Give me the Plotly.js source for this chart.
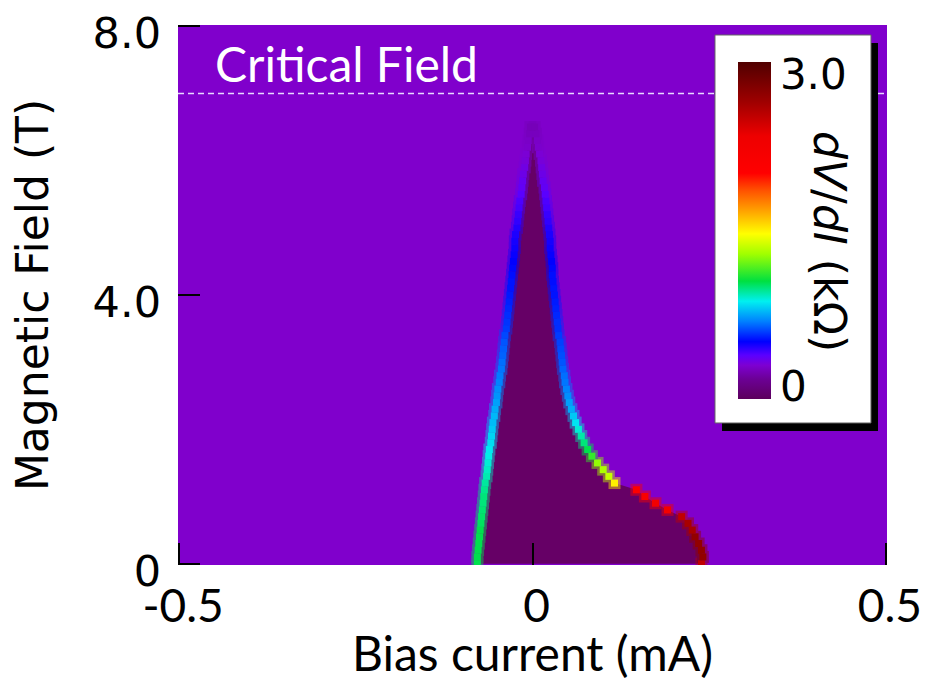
<!DOCTYPE html>
<html>
<head>
<meta charset="utf-8">
<script src="https://cdn.plot.ly/plotly-3.0.1.min.js"></script>
<style>html,body{margin:0;padding:0;background:#fff;}#chart{width:925px;height:681px;}</style>
</head>
<body>
<div id="chart"></div>
<script>
// Magnetic field rows (T)
const fieldT = [0.0,0.1,0.2,0.3,0.4,0.5,0.6,0.7,0.8,0.9,1.0,1.1,1.2,1.3,1.4,1.5,1.6,1.7,1.8,1.9,
  2.0,2.1,2.2,2.3,2.4,2.5,2.6,2.7,2.8,2.9,3.0,3.1,3.2,3.3,3.4,3.5,3.6,3.7,3.8,3.9,
  4.0,4.1,4.2,4.3,4.4,4.5,4.6,4.7,4.8,4.9,5.0,5.1,5.2,5.3,5.4,5.5,5.6,5.7,5.8,5.9,
  6.0,6.1,6.2,6.3,6.4,6.5];
// Negative switching current (mA) per field row
const leftEdgeI = [-0.078,-0.078,-0.077,-0.076,-0.075,-0.074,-0.073,-0.072,-0.071,-0.070,
  -0.069,-0.068,-0.067,-0.065,-0.064,-0.063,-0.062,-0.061,-0.059,-0.058,
  -0.057,-0.056,-0.054,-0.053,-0.051,-0.050,-0.049,-0.047,-0.046,-0.044,
  -0.043,-0.042,-0.041,-0.040,-0.039,-0.037,-0.036,-0.035,-0.034,-0.033,
  -0.032,-0.031,-0.030,-0.029,-0.028,-0.027,-0.026,-0.025,-0.025,-0.024,
  -0.022,-0.021,-0.020,-0.019,-0.018,-0.016,-0.015,-0.014,-0.013,-0.011,
  -0.010,-0.009,-0.007,-0.006,-0.004,-0.003];
// Positive switching current (mA) per field row
const rightEdgeI = [0.239,0.241,0.239,0.235,0.230,0.226,0.220,0.211,0.191,0.174,
  0.159,0.147,0.116,0.108,0.100,0.092,0.084,0.078,0.073,0.069,
  0.065,0.061,0.058,0.055,0.052,0.050,0.048,0.046,0.045,0.043,
  0.042,0.041,0.040,0.039,0.037,0.036,0.035,0.034,0.033,0.032,
  0.031,0.030,0.029,0.028,0.028,0.027,0.026,0.025,0.025,0.024,
  0.023,0.022,0.021,0.020,0.019,0.018,0.017,0.015,0.014,0.013,
  0.012,0.010,0.008,0.007,0.005,0.003];
// Peak dV/dI (kOhm) along the negative edge
const leftPeak = [1.0,1.0,1.0,1.0,1.0,1.0,0.98,0.97,0.96,0.95,
  0.95,0.93,0.91,0.89,0.87,0.85,0.83,0.81,0.79,0.77,
  0.75,0.73,0.72,0.70,0.68,0.66,0.65,0.63,0.62,0.61,
  0.60,0.58,0.57,0.56,0.54,0.52,0.51,0.50,0.49,0.48,
  0.47,0.46,0.46,0.45,0.44,0.43,0.42,0.41,0.40,0.39,
  0.38,0.36,0.35,0.33,0.32,0.30,0.28,0.27,0.25,0.24,
  0.22,0.21,0.19,0.18,0.16,0.15];
// Peak dV/dI (kOhm) along the positive edge
const rightPeak = [2.6,2.8,2.8,2.8,2.8,2.7,2.7,2.6,2.3,2.3,
  2.2,2.1,1.5,1.35,1.3,1.25,1.1,1.0,0.95,0.9,
  0.85,0.8,0.75,0.7,0.68,0.65,0.63,0.61,0.6,0.58,
  0.56,0.55,0.54,0.53,0.52,0.5,0.5,0.49,0.48,0.47,
  0.46,0.46,0.45,0.45,0.44,0.43,0.42,0.41,0.4,0.39,
  0.38,0.36,0.35,0.33,0.32,0.3,0.28,0.27,0.25,0.24,
  0.22,0.21,0.19,0.18,0.16,0.15];

const xTickVals = [-0.5, 0, 0.5];
const xTickText = ['-0.5', '0', '0.5'];
const yTickVals = [0, 4, 8];
const yTickText = ['0', '4.0', '8.0'];
const cbTickVals = [0, 3];
const cbTickText = ['0', '3.0'];
const cbRange = [-0.12, 3.12];
const criticalField = 7.0;

const cscale = [
  [0.00, '#5c005c'], [0.06, '#6c0096'], [0.10, '#7d00d2'], [0.13, '#5a00ff'],
  [0.17, '#0000ff'], [0.23, '#0080ff'], [0.29, '#00f0f0'], [0.35, '#00e040'],
  [0.43, '#a0ff00'], [0.49, '#ffff00'], [0.56, '#ffa000'], [0.62, '#ff5000'],
  [0.67, '#ff0000'], [0.78, '#ee0000'], [0.88, '#a00000'], [1.00, '#500000']
];

const innerX = leftEdgeI.concat(rightEdgeI.slice().reverse());
const innerY = fieldT.concat(fieldT.slice().reverse());

function edgeHalo(xs, vals) {
  return { type: 'scatter', x: xs, y: fieldT, mode: 'markers', showlegend: false, hoverinfo: 'skip',
    opacity: 0.45,
    marker: { symbol: 'square', size: 12, color: vals, colorscale: cscale, cmin: cbRange[0], cmax: cbRange[1],
      line: { width: 0 }, showscale: false } };
}

const traces = [
  { type: 'scatter', x: innerX, y: innerY, mode: 'lines', fill: 'toself',
    fillcolor: '#660066', line: { width: 0, color: '#660066' }, hoverinfo: 'skip', showlegend: false },
  edgeHalo(leftEdgeI, leftPeak),
  edgeHalo(rightEdgeI, rightPeak),
  { type: 'scatter', x: leftEdgeI, y: fieldT, mode: 'markers', showlegend: false,
    marker: { symbol: 'square', size: 7, color: leftPeak, colorscale: cscale, cmin: cbRange[0], cmax: cbRange[1],
      line: { width: 0 }, showscale: false } },
  { type: 'scatter', x: rightEdgeI, y: fieldT, mode: 'markers', showlegend: false,
    marker: { symbol: 'square', size: 7, color: rightPeak, colorscale: cscale, cmin: cbRange[0], cmax: cbRange[1],
      line: { width: 0 }, showscale: true,
      colorbar: {
        x: 0.7898, xanchor: 'left', xpad: 0, y: 0.6194, yanchor: 'middle', ypad: 0,
        len: 0.624, lenmode: 'fraction', thickness: 33, thicknessmode: 'pixels',
        outlinewidth: 0, bgcolor: 'rgba(0,0,0,0)', borderwidth: 0,
        tickvals: cbTickVals, ticktext: cbTickText, ticks: '',
        tickfont: { family: 'DejaVu Sans', size: 42, color: '#000' },
        title: { text: '' }
      } } }
];

const layout = {
  width: 925, height: 681,
  margin: { l: 178, r: 38, t: 25, b: 116, pad: 0 },
  paper_bgcolor: '#ffffff', plot_bgcolor: '#8000cc',
  showlegend: false,
  xaxis: {
    range: [-0.5015, 0.5015], tickvals: xTickVals, ticktext: xTickText,
    ticks: 'inside', ticklen: 22, tickwidth: 2, tickcolor: '#000',
    showgrid: false, zeroline: false, showline: false, ticklabelshift: 4, ticklabelstandoff: 10,
    tickfont: { family: 'Lato', size: 46, color: '#000' },
    title: { text: 'Bias current (mA)', font: { family: 'Lato', size: 48, color: '#000' }, standoff: 14 }
  },
  yaxis: {
    range: [-0.02, 8.02], tickvals: yTickVals, ticktext: yTickText,
    ticks: 'inside', ticklen: 22, tickwidth: 2, tickcolor: '#000',
    showgrid: false, zeroline: false, showline: false, ticklabelstandoff: 16, ticklabelshift: 7,
    tickfont: { family: 'DejaVu Sans', size: 43, color: '#000' },
    title: { text: 'Magnetic Field (T)', font: { family: 'DejaVu Sans', size: 44, color: '#000' }, standoff: 30 }
  },
  shapes: [
    { type: 'line', xref: 'x', yref: 'y', x0: -0.5015, x1: 0.5015, y0: criticalField, y1: criticalField,
      line: { color: '#e8d8ff', width: 1.5, dash: '6px,4px' }, layer: 'above' },
    { type: 'rect', xref: 'paper', yref: 'paper', x0: 0.7673, x1: 0.9873, y0: 0.2481, y1: 0.9667,
      fillcolor: '#000', line: { width: 0 }, layer: 'above' },
    { type: 'rect', xref: 'paper', yref: 'paper', x0: 0.7574, x1: 0.9774, y0: 0.263, y1: 0.9815,
      fillcolor: '#fff', line: { width: 1, color: '#666' }, layer: 'above' }
  ],
  annotations: [
    { text: 'Critical Field', xref: 'x', yref: 'y', x: -0.452, y: criticalField, xanchor: 'left', yanchor: 'bottom',
      yshift: 0, showarrow: false, font: { family: 'Lato', size: 48, color: '#ffffff' } },
    { text: '<i>dV</i>/<i>dI</i> (kΩ)', xref: 'paper', yref: 'paper', x: 0.9196, y: 0.598,
      xanchor: 'center', yanchor: 'middle', textangle: 90, showarrow: false,
      font: { family: 'DejaVu Sans', size: 44, color: '#000' } }
  ]
};

Plotly.newPlot('chart', traces, layout, { staticPlot: true, displayModeBar: false });
</script>
</body>
</html>
